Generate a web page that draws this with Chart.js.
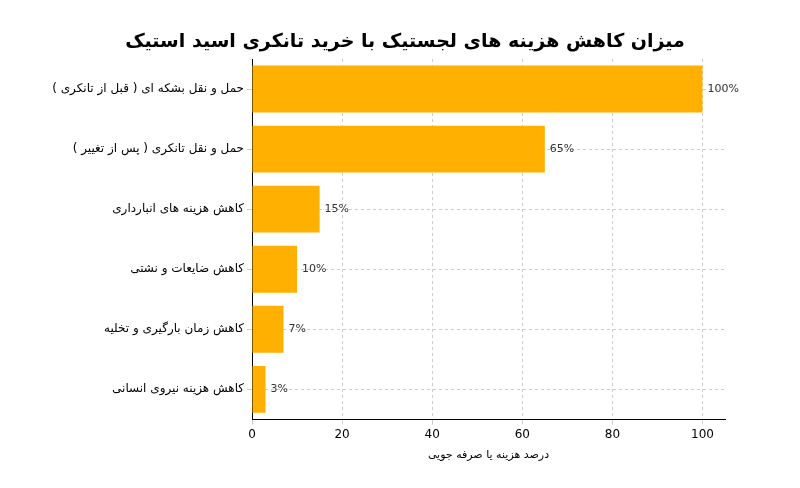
<!DOCTYPE html>
<html>
<head>
<meta charset="utf-8">
<script src="https://cdn.jsdelivr.net/npm/chart.js@4"></script>
<style>
  body { margin: 0; background: #fff; }
</style>
</head>
<body>
<canvas id="myChart" width="800" height="488"></canvas>
<script>
const titleText = 'میزان کاهش هزینه های لجستیک با خرید تانکری اسید استیک';
const categories = [
    'حمل و نقل بشکه ای ( قبل از تانکری )',
    'حمل و نقل تانکری ( پس از تغییر )',
    'کاهش هزینه های انبارداری',
    'کاهش ضایعات و نشتی',
    'کاهش زمان بارگیری و تخلیه',
    'کاهش هزینه نیروی انسانی'
];
const values = [100, 65, 15, 10, 7, 3];
const xTicks = [0, 20, 40, 60, 80, 100];

// value labels to the right of each bar + title centred on the canvas
const valueLabels = {
    id: 'valueLabels',
    afterDatasetsDraw(chart) {
        const ctx = chart.ctx;
        const meta = chart.getDatasetMeta(0);
        ctx.save();
        ctx.font = '11px "DejaVu Sans"';
        ctx.fillStyle = '#333';
        ctx.textBaseline = 'middle';
        ctx.textAlign = 'left';
        meta.data.forEach((bar, i) => {
            ctx.fillText(values[i] + '%', bar.x + 5, bar.y);
        });
        ctx.font = 'bold 19px "DejaVu Sans"';
        ctx.fillStyle = '#000';
        ctx.textAlign = 'center';
        ctx.fillText(titleText, 405, 42);
        ctx.restore();
    }
};

new Chart(document.getElementById('myChart'), {
    type: 'bar',
    data: {
        labels: categories,
        datasets: [{
            data: values,
            backgroundColor: '#FFB000',
            barPercentage: 0.78,
            categoryPercentage: 1
        }]
    },
    options: {
        indexAxis: 'y',
        responsive: false,
        animation: false,
        layout: { padding: { left: 0, right: 75, top: 59, bottom: 22 } },
        plugins: {
            legend: { display: false },
            tooltip: { enabled: false },
            title: { display: false }
        },
        scales: {
            x: {
                min: 0,
                max: 105,
                afterBuildTicks(axis) { axis.ticks = xTicks.map(v => ({ value: v })); },
                grid: { color: '#ccc', tickLength: 5 },
                border: { display: true, color: '#000', dash: [3, 3] },
                ticks: { color: '#000', font: { family: '"DejaVu Sans"', size: 12 } },
                title: {
                    display: true,
                    text: 'درصد هزینه یا صرفه جویی',
                    color: '#000',
                    font: { family: '"DejaVu Sans"', size: 11 }
                }
            },
            y: {
                afterFit(axis) { axis.width = 252; },
                grid: { color: '#ccc', tickLength: 5, offset: false },
                border: { display: true, color: '#000', dash: [3, 3] },
                ticks: { color: '#000', font: { family: '"DejaVu Sans"', size: 12 } }
            }
        }
    },
    plugins: [valueLabels]
});
</script>
</body>
</html>
